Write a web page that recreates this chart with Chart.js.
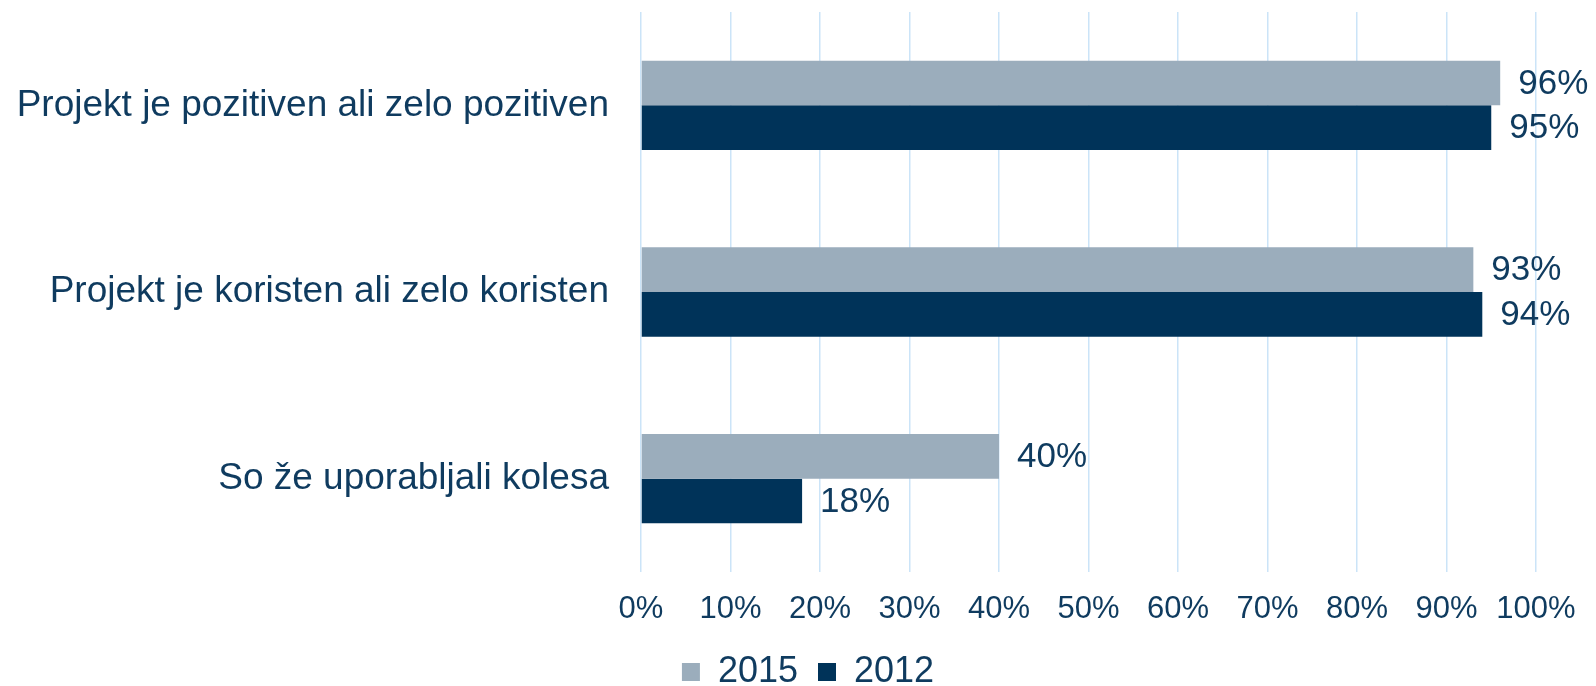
<!DOCTYPE html>
<html>
<head>
<meta charset="utf-8">
<script src="https://cdn.jsdelivr.net/npm/chart.js@4.4.0/dist/chart.umd.min.js"></script>
<style>
  html, body { margin: 0; padding: 0; background: #ffffff; }
  #wrap { width: 1596px; height: 686px; position: relative; }
</style>
</head>
<body>
<div id="wrap"><canvas id="c" width="1596" height="686"></canvas></div>
<script>
const categories = [
  "Projekt je pozitiven ali zelo pozitiven",
  "Projekt je koristen ali zelo koristen",
  "So že uporabljali kolesa"
];
const seriesNames = ["2015", "2012"];
const values2015 = [96, 93, 40];
const values2012 = [95, 94, 18];
const xTicks = [0, 10, 20, 30, 40, 50, 60, 70, 80, 90, 100];

const TEXT = '#0f3b5f';
const FONT = '"Liberation Sans", Arial, sans-serif';
const LEGEND_PAD = 20;

const dataLabels = {
  id: 'dataLabels',
  afterDatasetsDraw(chart) {
    const ctx = chart.ctx;
    ctx.save();
    ctx.font = '35px ' + FONT;
    ctx.fillStyle = TEXT;
    ctx.textAlign = 'left';
    ctx.textBaseline = 'middle';
    chart.data.datasets.forEach((ds, i) => {
      const meta = chart.getDatasetMeta(i);
      meta.data.forEach((bar, j) => {
        ctx.fillText(ds.data[j] + '%', bar.x + 18, bar.y + 1);
      });
    });
    ctx.restore();
  }
};

// centre the legend on the whole canvas and place it near the bottom edge
const legendPlace = {
  id: 'legendPlace',
  afterLayout(chart) {
    const lg = chart.legend;
    if (lg) {
      const h = lg.height;
      lg.left = 80;
      lg.right = 1536;
      lg.width = lg.right - lg.left;
      lg.top = 672 - LEGEND_PAD - 18;
      lg.bottom = lg.top + h;
    }
  }
};

new Chart(document.getElementById('c'), {
  type: 'bar',
  data: {
    labels: categories,
    datasets: [
      { label: seriesNames[0], data: values2015, backgroundColor: '#9badbc', borderWidth: 0 },
      { label: seriesNames[1], data: values2012, backgroundColor: '#003359', borderWidth: 0 }
    ]
  },
  options: {
    indexAxis: 'y',
    responsive: false,
    animation: false,
    devicePixelRatio: 1,
    categoryPercentage: 0.479,
    barPercentage: 1.0,
    layout: { padding: { top: 12, right: 60, left: 0, bottom: 0 } },
    scales: {
      x: {
        min: 0, max: 100,
        afterBuildTicks(scale) { scale.ticks = xTicks.map(v => ({ value: v })); },
        ticks: {
          callback: v => v + '%',
          color: TEXT,
          font: { family: FONT, size: 31 },
          padding: 19,
          maxRotation: 0,
          autoSkip: false
        },
        grid: { color: '#cbe4f8', lineWidth: 1.5, drawTicks: false },
        border: { display: false },
        afterFit(scale) {
          scale.height = 48;
          scale.paddingLeft = 0; scale.paddingRight = 0;
        }
      },
      y: {
        ticks: {
          color: TEXT,
          font: { family: FONT, size: 37 },
          padding: 32
        },
        grid: { display: false, drawTicks: false },
        border: { display: false },
        afterFit(scale) {
          scale.width = 641;
          scale.paddingTop = 0; scale.paddingBottom = 0;
        }
      }
    },
    plugins: {
      legend: {
        position: 'bottom',
        labels: {
          color: TEXT,
          font: { family: FONT, size: 36 },
          boxWidth: 18,
          boxHeight: 18,
          padding: LEGEND_PAD
        }
      },
      tooltip: { enabled: false }
    }
  },
  plugins: [dataLabels, legendPlace]
});
</script>
</body>
</html>
